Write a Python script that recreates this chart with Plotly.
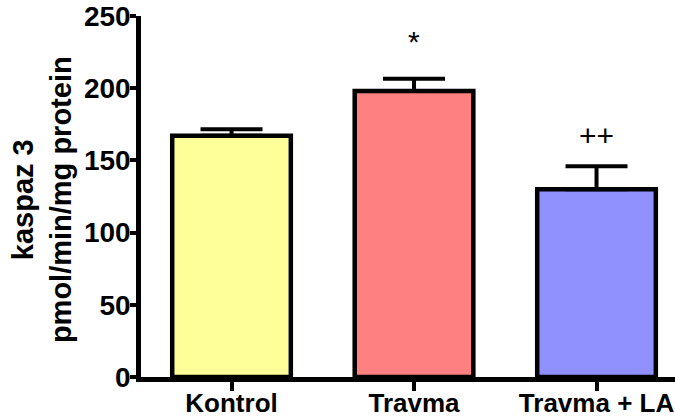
import plotly.graph_objects as go

categories = ["Kontrol", "Travma", "Travma + LA"]
values = [167, 198, 130]
errors = [4.5, 8.5, 16]
colors = ["#FFFF99", "#FF8080", "#9090FF"]
marks = ["", "*", "++"]
mark_y = [0, 232, 167]
y_ticks = [0, 50, 100, 150, 200, 250]

FONT = "Liberation Sans, Arial, sans-serif"

fig = go.Figure()
fig.add_trace(go.Bar(
    x=categories, y=values, width=0.65,
    marker=dict(color=colors, line=dict(color="black", width=4.5)),
    error_y=dict(type="data", symmetric=False, array=errors,
                 arrayminus=[0] * len(errors),
                 color="black", thickness=4, width=31),
))

for c, m, yy in zip(categories, marks, mark_y):
    if m:
        fig.add_annotation(x=c, y=yy, text=m, showarrow=False,
                           font=dict(family=FONT, size=30, color="black"),
                           yanchor="middle")

fig.add_annotation(xref="paper", yref="paper",
                   x=(42 - 141) / 534, y=0.49,
                   text="<b>kaspaz 3<br>pmol/min/mg protein</b>",
                   textangle=-90, showarrow=False,
                   font=dict(family=FONT, size=29, color="black"),
                   xanchor="center", yanchor="middle")

fig.update_layout(
    width=675, height=420,
    margin=dict(l=141, r=0, t=16, b=43, autoexpand=False),
    plot_bgcolor="white", paper_bgcolor="white",
    showlegend=False,
    font=dict(family=FONT, color="black"),
)
fig.update_xaxes(
    range=[-0.496, 2.43], showline=True, linecolor="black", linewidth=4.5,
    ticks="outside", ticklen=9, tickwidth=4, tickcolor="black",
    tickfont=dict(family=FONT, size=26, color="black", weight="bold"),
    ticklabelstandoff=-10,
    showgrid=False, zeroline=False, automargin=False,
)
fig.update_yaxes(
    range=[0, 250], tickvals=y_ticks, showline=True, linecolor="black",
    linewidth=4.5, ticks="outside", ticklen=6, tickwidth=4, tickcolor="black",
    tickfont=dict(family=FONT, size=28, color="black", weight="bold"),
    ticklabelstandoff=-6,
    showgrid=False, zeroline=False, automargin=False,
)

fig.write_html("out.html")
